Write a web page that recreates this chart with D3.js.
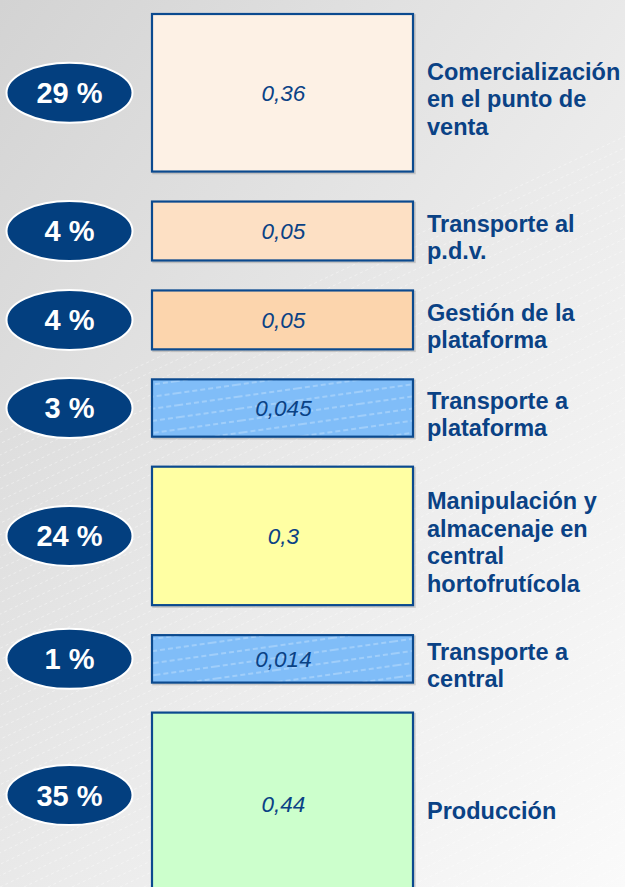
<!DOCTYPE html>
<html><head><meta charset="utf-8">
<script src="https://cdn.jsdelivr.net/npm/d3@7"></script>
<style>html,body{margin:0;padding:0;overflow:hidden;background:#e6e6e6}</style>
</head><body>
<script>
const stages = ["Comercialización en el punto de venta","Transporte al p.d.v.","Gestión de la plataforma","Transporte a plataforma","Manipulación y almacenaje en central hortofrutícola","Transporte a central","Producción"];
const labelLines = [["Comercialización","en el punto de","venta"],["Transporte al","p.d.v."],["Gestión de la","plataforma"],["Transporte a","plataforma"],["Manipulación y","almacenaje en","central","hortofrutícola"],["Transporte a","central"],["Producción"]];
const costs = [0.36, 0.05, 0.05, 0.045, 0.3, 0.014, 0.44];
const costLabels = ["0,36","0,05","0,05","0,045","0,3","0,014","0,44"];
const shares = [29, 4, 4, 3, 24, 1, 35];
const fills = ["#fdf1e5","#fde0c4","#fcd5ad","#80bdf8","#ffffa3","#80bdf8","#ccffcc"];
const hatched = [false,false,false,true,false,true,false];

const FONT = "'Liberation Sans', Arial, sans-serif";
const W = 625, H = 887;
const svg = d3.select("body").append("svg").attr("width", W).attr("height", H);
const defs = svg.append("defs");
const bg = defs.append("linearGradient").attr("id","bg").attr("x1","0").attr("y1","0").attr("x2","1").attr("y2","1");
bg.append("stop").attr("offset","0").attr("stop-color","#d3d3d3");
bg.append("stop").attr("offset","0.55").attr("stop-color","#ebebeb");
bg.append("stop").attr("offset","1").attr("stop-color","#fafafa");
svg.append("rect").attr("width",W).attr("height",H).attr("fill","url(#bg)");

// faint diagonal dashed lines in background
const bgLines = svg.append("g").attr("stroke","#ffffff").attr("stroke-opacity",0.5).attr("stroke-width",0.8).attr("stroke-dasharray","3,3");
d3.range(-40, 80).forEach(i => {
  const x0 = i * 24;
  bgLines.append("line").attr("x1", x0).attr("y1", H).attr("x2", x0 + 1900).attr("y2", H - 900);
});

const boxX0 = 152, boxX1 = 413, top0 = 14, gap = 30;
const h = d3.scaleLinear().domain([0, 0.44]).range([43, 183]);
const ys = [];
let acc = top0;
costs.forEach(v => { ys.push(acc); acc += h(v) + gap; });

const hatch = defs.append("pattern").attr("id","hatch").attr("patternUnits","userSpaceOnUse")
  .attr("width",60).attr("height",12).attr("patternTransform","rotate(-8)");
hatch.append("rect").attr("width",60).attr("height",12).attr("fill","#80bdf8");
hatch.append("line").attr("x1",0).attr("y1",6).attr("x2",60).attr("y2",6)
  .attr("stroke","#ffffff").attr("stroke-opacity",0.5).attr("stroke-width",1).attr("stroke-dasharray","5,3");

const g = svg.selectAll("g.stage").data(costs).enter().append("g").attr("class","stage");

g.append("rect").attr("x", boxX0+1.5).attr("y",(d,i)=>ys[i]+1.5)
  .attr("width", boxX1-boxX0).attr("height", d=>h(d))
  .attr("fill","none").attr("stroke","#000").attr("stroke-opacity",0.15).attr("stroke-width",2.5);
g.append("rect").attr("x", boxX0).attr("y",(d,i)=>ys[i])
  .attr("width", boxX1-boxX0).attr("height", d=>h(d))
  .attr("fill",(d,i)=>hatched[i] ? "url(#hatch)" : fills[i])
  .attr("stroke","#0b4a8f").attr("stroke-width",2.2);

g.append("text").attr("x",(boxX0+boxX1)/2 + 1).attr("y",(d,i)=>ys[i]+h(d)/2)
  .attr("dy","0.36em").attr("text-anchor","middle")
  .attr("font-family",FONT).attr("font-style","italic").attr("font-size",22.5)
  .attr("fill","#0a4285").text((d,i)=>costLabels[i]);

// ovals
const ovalY = (d,i) => ys[i]+h(d)/2 - (i===6?9:0);
g.append("ellipse").attr("cx",69.5).attr("cy",ovalY)
  .attr("rx",63).attr("ry",30).attr("fill","#033f7f").attr("stroke","#ffffff").attr("stroke-width",2);
g.append("text").attr("x",69.5).attr("y",ovalY)
  .attr("dy","0.36em").attr("text-anchor","middle")
  .attr("font-family",FONT).attr("font-weight","bold").attr("font-size",29)
  .attr("fill","#ffffff").text((d,i)=>shares[i] + " %");

// right labels
const lh = 27.5;
g.each(function(d,i){
  const lines = labelLines[i];
  const cy = ys[i] + h(d)/2 + 6;
  const t = d3.select(this).append("text")
    .attr("font-family",FONT).attr("font-weight","bold").attr("font-size",23.5)
    .attr("fill","#0a4285");
  lines.forEach((ln,k)=>{
    t.append("tspan").attr("x",427).attr("y", cy + (k - (lines.length-1)/2)*lh).attr("dy","0.36em").text(ln);
  });
});
</script>
</body></html>
